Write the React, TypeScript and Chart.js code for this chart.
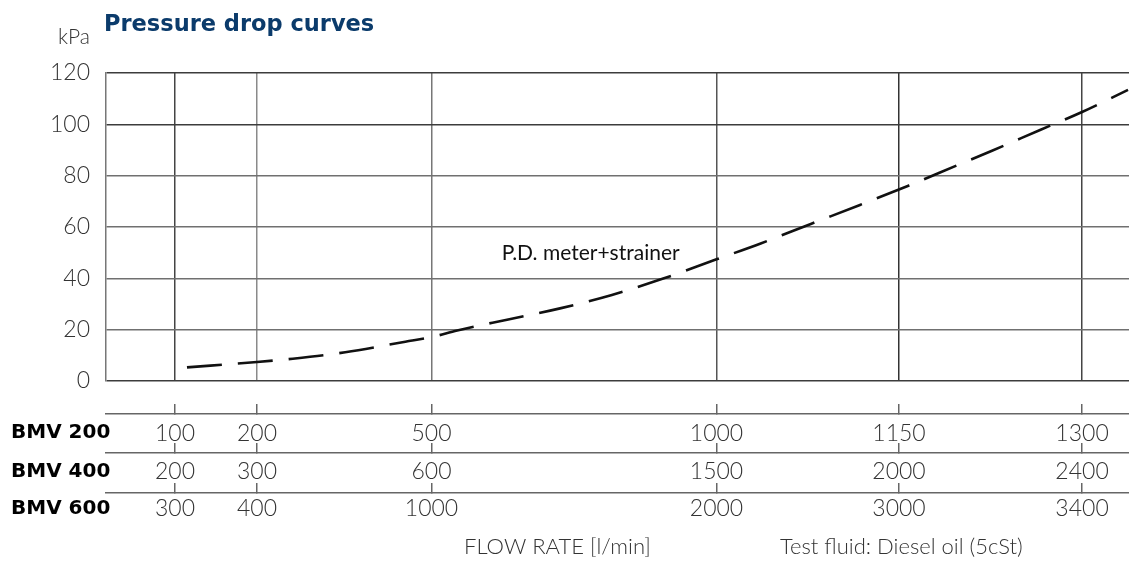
import React, { useEffect, useRef } from 'react';
import { Chart, registerables, LinearScale } from 'chart.js';

// ---------- data ----------
const TITLE = 'Pressure drop curves';
const Y_UNIT = 'kPa';
const Y_MIN = 0;
const Y_MAX = 120;
const Y_STEP = 20;

// BMV 200 flow rate (l/min) at each vertical grid line
const bmv200Ticks = [100, 200, 500, 1000, 1150, 1300];
const bmv400Labels = [200, 300, 600, 1500, 2000, 2400];
const bmv600Labels = [300, 400, 1000, 2000, 3000, 3400];
const modelNames = ['BMV 200', 'BMV 400', 'BMV 600'];

// curve: P.D. meter+strainer, flow in BMV 200 l/min, pressure drop in kPa
const curveFlow = [114.6, 200, 261.6, 351.7, 455, 500, 545, 634.6, 725.5, 816.4, 903.8, 1000, 1036.3, 1077.5, 1117.9, 1158.2, 1198.4, 1226.2, 1265.6, 1300, 1337.7];
const curveKpa = [5.3, 7.4, 8.7, 11.2, 15.3, 17.1, 19.7, 24.0, 28.3, 33.5, 39.7, 47.4, 53.6, 61.2, 68.6, 76.2, 84.2, 89.7, 97.8, 104.8, 113.4];
const curveName = 'P.D. meter+strainer';
const curveLabelAt = { flow: 623, kpa: 49.7 };

const xTitle = 'FLOW RATE [l/min]';
const note = 'Test fluid: Diesel oil (5cSt)';

// ---------- schematic (non-linear) flow scale ----------
const SCALE_FLOW = [15.9, 100, 200, 500, 1000, 1150, 1300, 1338.5];
const SCALE_FRAC = [0, 0.06745, 0.1476, 0.3182, 0.5968, 0.7752, 0.9541, 1];

class PiecewiseScale extends LinearScale {
  static id = 'piecewise';
  static defaults = LinearScale.defaults;
  pwFrac(v: number) {
    const A = SCALE_FLOW, F = SCALE_FRAC;
    let i = 0;
    while (i < A.length - 2 && v > A[i + 1]) i++;
    return F[i] + ((v - A[i]) / (A[i + 1] - A[i])) * (F[i + 1] - F[i]);
  }
  getPixelForValue(value: any) {
    if (value === null || value === undefined || isNaN(value)) return NaN;
    return this.getPixelForDecimal(this.pwFrac(+value));
  }
  getValueForPixel(pixel: number) {
    const d = this.getDecimalForPixel(pixel);
    const A = SCALE_FLOW, F = SCALE_FRAC;
    let i = 0;
    while (i < F.length - 2 && d > F[i + 1]) i++;
    return A[i] + ((d - F[i]) / (F[i + 1] - F[i])) * (A[i + 1] - A[i]);
  }
}

Chart.register(...registerables, PiecewiseScale);

const FONT = 'Lato';
const TEXT = '#333333';

const vGridColor = (v: number) => {
  const m: Record<number, string> = { 100: '#444', 200: '#8a8a8a', 500: '#777', 1000: '#555', 1150: '#333', 1300: '#444' };
  return m[v] || '#666';
};
const hGridColor = (v: number) => (v === 0 || v === 100 || v === 120 ? '#3c3c3c' : '#707070');

const setTicks = (s: any) => {
  s.ticks = bmv200Ticks.map((v) => ({ value: v }));
};

function rowAxis(weight: number, labels: number[], height: number, padding: number) {
  return {
    type: 'piecewise',
    position: 'bottom',
    weight,
    min: SCALE_FLOW[0],
    max: SCALE_FLOW[SCALE_FLOW.length - 1],
    afterBuildTicks: setTicks,
    afterFit: (s: any) => {
      s.height = height;
    },
    border: { display: true, color: '#666', width: 1.5 },
    grid: { drawOnChartArea: false, drawTicks: true, tickLength: -10, color: '#666', lineWidth: 1.5 },
    ticks: {
      autoSkip: false,
      maxRotation: 0,
      minRotation: 0,
      padding,
      color: TEXT,
      font: { family: FONT, size: 23, weight: '300' },
      callback: (_v: any, i: number) => String(labels[i]),
    },
  };
}

const textPlugin = {
  id: 'chartTexts',
  afterDraw(chart: any) {
    const ctx = chart.ctx;
    const { x, y } = chart.scales;
    const area = chart.chartArea;
    ctx.save();
    // title
    ctx.fillStyle = '#0b3b6b';
    ctx.font = `bold 22.5px "DejaVu Sans"`;
    ctx.textAlign = 'left';
    ctx.textBaseline = 'alphabetic';
    ctx.fillText(TITLE, area.left - 2, 31);
    // unit
    ctx.fillStyle = TEXT;
    ctx.font = `300 21px ${FONT}`;
    ctx.textAlign = 'right';
    ctx.fillText(Y_UNIT, area.left - 16, 44);
    // curve label
    ctx.fillStyle = '#111';
    ctx.font = `400 21px ${FONT}`;
    ctx.textAlign = 'left';
    ctx.textBaseline = 'middle';
    ctx.fillText(curveName, x.getPixelForValue(curveLabelAt.flow), y.getPixelForValue(curveLabelAt.kpa));
    // model names
    const rows = [chart.scales.x2, chart.scales.x3, chart.scales.x4];
    const off = [19, 18.5, 16];
    ctx.fillStyle = '#000';
    ctx.font = `bold 20px "DejaVu Sans"`;
    ctx.textAlign = 'left';
    rows.forEach((r: any, i: number) => {
      ctx.fillText(modelNames[i], 11, r.top + off[i]);
    });
    // footer
    ctx.fillStyle = TEXT;
    ctx.font = `300 22px ${FONT}`;
    ctx.textBaseline = 'alphabetic';
    ctx.fillText(xTitle, 464, 554);
    ctx.fillText(note, 780, 554);
    ctx.restore();
  },
};

export default function App() {
  const ref = useRef<HTMLCanvasElement>(null);
  useEffect(() => {
    if (!ref.current) return;
    const chart = new Chart(ref.current, {
      type: 'line',
      data: {
        datasets: [
          {
            label: curveName,
            data: curveFlow.map((f, i) => ({ x: f, y: curveKpa[i] })),
            borderColor: '#111',
            borderWidth: 2.6,
            borderDash: [35, 16],
            borderCapStyle: 'butt',
            pointRadius: 0,
            fill: false,
            cubicInterpolationMode: 'monotone',
            xAxisID: 'x',
            yAxisID: 'y',
          },
        ],
      },
      options: {
        animation: false,
        responsive: false,
        devicePixelRatio: 1,
        events: [],
        layout: { padding: { left: 0, top: 73, right: 0, bottom: 29 } },
        plugins: { legend: { display: false }, tooltip: { enabled: false }, title: { display: false } },
        scales: {
          x: {
            type: 'piecewise',
            position: 'bottom',
            weight: 0,
            min: SCALE_FLOW[0],
            max: SCALE_FLOW[SCALE_FLOW.length - 1],
            afterBuildTicks: setTicks,
            afterFit: (s: any) => {
              s.height = 33;
            },
            border: { display: false },
            grid: {
              drawOnChartArea: true,
              drawTicks: false,
              lineWidth: 1.5,
              color: (c: any) => vGridColor(c.tick ? c.tick.value : 0),
            },
            ticks: { display: false },
          },
          x2: rowAxis(1, bmv200Ticks, 39, 15.5),
          x3: rowAxis(2, bmv400Labels, 40, 15),
          x4: rowAxis(3, bmv600Labels, 40, 12),
          y: {
            type: 'linear',
            position: 'left',
            min: Y_MIN,
            max: Y_MAX,
            afterFit: (s: any) => {
              s.width = 106;
            },
            border: { display: true, color: '#777', width: 1.5 },
            grid: {
              drawTicks: false,
              lineWidth: 1.5,
              color: (c: any) => hGridColor(c.tick ? c.tick.value : 0),
            },
            ticks: {
              stepSize: Y_STEP,
              padding: 16,
              color: TEXT,
              font: { family: FONT, size: 23, weight: '300' },
            },
          },
        },
      } as any,
      plugins: [textPlugin],
    });
    return () => chart.destroy();
  }, []);
  return (
    <div style={{ position: 'fixed', left: 0, top: 0, width: 1129, height: 562, background: '#fff' }}>
      <canvas ref={ref} width={1129} height={562} />
    </div>
  );
}
